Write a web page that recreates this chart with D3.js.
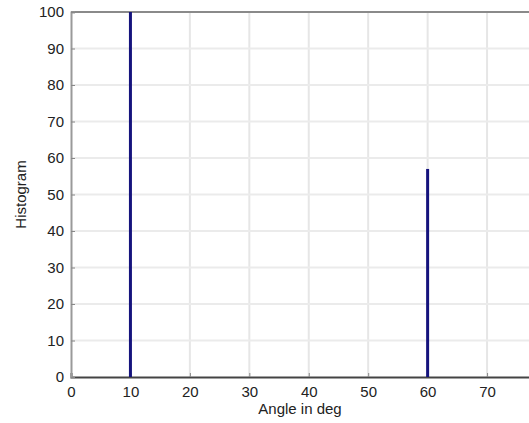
<!DOCTYPE html>
<html>
<head>
<meta charset="utf-8">
<script src="https://cdn.jsdelivr.net/npm/d3@7"></script>
<style>
  body { margin: 0; background: #fff; }
  text { font-family: "Liberation Sans", Arial, sans-serif; fill: #222; }
</style>
</head>
<body>
<div id="chart"></div>
<script>
// data
var angles = [10, 60];
var counts = [100, 57];
var xTicks = [0, 10, 20, 30, 40, 50, 60, 70];
var yTicks = [0, 10, 20, 30, 40, 50, 60, 70, 80, 90, 100];

var svgWidth = 529, svgHeight = 423;
var margin = { top: 12, left: 71, bottom: 46 };
var height = svgHeight - margin.top - margin.bottom;

var svg = d3.select('#chart').append('svg')
  .attr('width', svgWidth)
  .attr('height', svgHeight);

var chart = svg.append('g')
  .attr('transform', `translate(${margin.left}, ${margin.top})`);

// x goes past the right edge of the window (plot is cut off there)
var x = d3.scaleLinear().domain([0, 80]).range([0, 475.5]);
var y = d3.scaleLinear().domain([0, 100]).range([height, 0]);

// grid
chart.append('g').selectAll('line')
  .data(xTicks.slice(1))
  .enter().append('line')
  .attr('x1', d => x(d)).attr('x2', d => x(d))
  .attr('y1', 0).attr('y2', height)
  .attr('stroke', '#e6e6e6').attr('stroke-width', 2);

chart.append('g').selectAll('line')
  .data(yTicks.slice(1, -1))
  .enter().append('line')
  .attr('x1', 0).attr('x2', x(80))
  .attr('y1', d => y(d)).attr('y2', d => y(d))
  .attr('stroke', '#ebebeb').attr('stroke-width', 2);

// top border
chart.append('line')
  .attr('x1', 0).attr('x2', x(80))
  .attr('y1', 0).attr('y2', 0)
  .attr('stroke', '#8a8a8a').attr('stroke-width', 2);

// axes
var bottomAxis = d3.axisBottom(x).tickValues(xTicks).tickSize(-4).tickPadding(9);
var leftAxis = d3.axisLeft(y).tickValues(yTicks).tickSize(-4).tickPadding(7);

var xg = chart.append('g')
  .attr('transform', `translate(0,${height})`)
  .call(bottomAxis);
var yg = chart.append('g').call(leftAxis);

[xg, yg].forEach(function(g) {
  g.selectAll('text').style('font-size', '15px').attr('fill', '#222');
  g.selectAll('.tick line').attr('stroke', '#888');
});
xg.select('.domain').attr('stroke', '#444').attr('stroke-width', 2);
yg.select('.domain').attr('stroke', '#9a9a9a').attr('stroke-width', 2);

// histogram stems
chart.selectAll('.stem')
  .data(angles)
  .enter().append('line')
  .attr('class', 'stem')
  .attr('x1', d => x(d)).attr('x2', d => x(d))
  .attr('y1', y(0))
  .attr('y2', (d, i) => y(counts[i]))
  .attr('stroke', '#15137d')
  .attr('stroke-width', 3);

// labels
svg.append('text')
  .attr('transform', `translate(26, ${margin.top + height / 2}) rotate(-90)`)
  .style('text-anchor', 'middle')
  .style('font-size', '15px')
  .text('Histogram');

svg.append('text')
  .attr('x', 300).attr('y', 414)
  .style('text-anchor', 'middle')
  .style('font-size', '15px')
  .text('Angle in deg');
</script>
</body>
</html>
